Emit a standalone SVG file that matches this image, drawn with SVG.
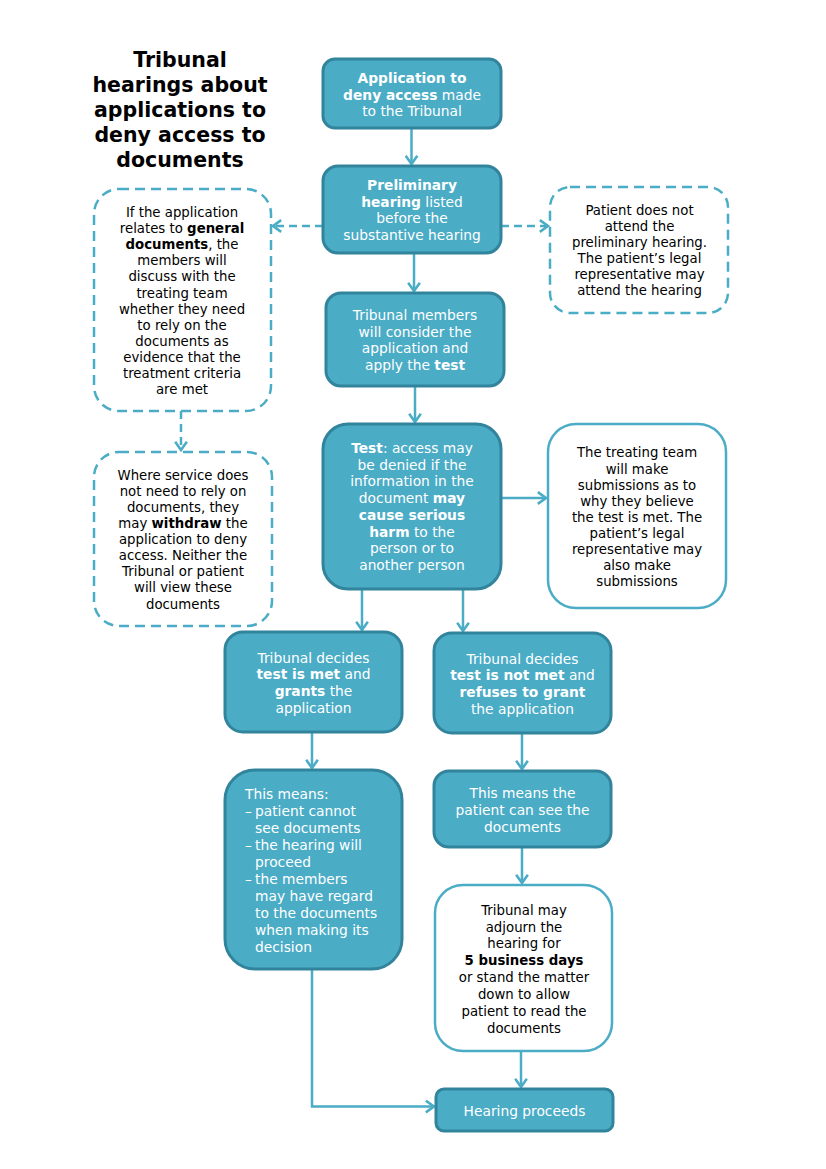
<svg xmlns="http://www.w3.org/2000/svg" width="826" height="1169" viewBox="0 0 826 1169">
<style>
  .node { fill: #4BACC6; stroke: #31849B; stroke-width: 3; }
  .dash { fill: #FFFFFF; stroke: #4BACC6; stroke-width: 2.5; stroke-dasharray: 10 6; }
  .white { fill: #FFFFFF; stroke: #4BACC6; stroke-width: 2.5; }
  .wt { font-family: "DejaVu Sans", Verdana, sans-serif; font-size: 13.8px; fill: #FFFFFF; text-anchor: middle; }
  .wl { font-family: "DejaVu Sans", Verdana, sans-serif; font-size: 13.8px; fill: #FFFFFF; }
  .bt { font-family: "DejaVu Sans", Verdana, sans-serif; font-size: 13.3px; fill: #000000; text-anchor: middle; }
  .title { font-family: "DejaVu Sans", Verdana, sans-serif; font-size: 20.5px; font-weight: bold; fill: #000000; text-anchor: middle; }
  .b { font-weight: bold; }
  .conn { fill: none; stroke: #4BACC6; stroke-width: 2.5; }
  .conn-d { fill: none; stroke: #4BACC6; stroke-width: 2.5; stroke-dasharray: 8 5; }
</style>
<defs>
  <marker id="arr" markerUnits="userSpaceOnUse" markerWidth="14" markerHeight="14" refX="8" refY="6" orient="auto" viewBox="0 0 10 12">
    <path d="M1,1 L8,6 L1,11" fill="none" stroke="#4BACC6" stroke-width="2.2"/>
  </marker>
</defs>
<rect width="826" height="1169" fill="#FFFFFF"/>

<g id="title">
  <text class="title" x="180" y="67">Tribunal</text>
  <text class="title" x="180" y="92">hearings about</text>
  <text class="title" x="180" y="117">applications to</text>
  <text class="title" x="180" y="142">deny access to</text>
  <text class="title" x="180" y="167">documents</text>
</g>

<g id="connectors">
  <path class="conn" d="M411.5,128 V164" marker-end="url(#arr)"/>
  <path class="conn" d="M414,253 V291" marker-end="url(#arr)"/>
  <path class="conn" d="M415,386 V422" marker-end="url(#arr)"/>
  <path class="conn-d" d="M323,226 H273" marker-end="url(#arr)"/>
  <path class="conn-d" d="M501,226 H548" marker-end="url(#arr)"/>
  <path class="conn-d" d="M181,411 V450" marker-end="url(#arr)"/>
  <path class="conn" d="M501,498 H546" marker-end="url(#arr)"/>
  <path class="conn" d="M362,589 V630" marker-end="url(#arr)"/>
  <path class="conn" d="M463,589 V631" marker-end="url(#arr)"/>
  <path class="conn" d="M312,732 V768" marker-end="url(#arr)"/>
  <path class="conn" d="M522,733 V769" marker-end="url(#arr)"/>
  <path class="conn" d="M522,847 V883" marker-end="url(#arr)"/>
  <path class="conn" d="M521,1051 V1087" marker-end="url(#arr)"/>
  <path class="conn" d="M312,970 V1106.5 H434" marker-end="url(#arr)"/>
</g>

<g id="n-application">
  <rect class="node" x="323" y="59" width="178" height="69" rx="12"/>
  <text class="wt" x="412" y="83"><tspan class="b">Application to</tspan></text>
  <text class="wt" x="412" y="99.7"><tspan class="b">deny access</tspan> made</text>
  <text class="wt" x="412" y="116.4">to the Tribunal</text>
</g>

<g id="n-preliminary">
  <rect class="node" x="323" y="166" width="178" height="87" rx="15"/>
  <text class="wt" x="412" y="190"><tspan class="b">Preliminary</tspan></text>
  <text class="wt" x="412" y="206.7"><tspan class="b">hearing</tspan> listed</text>
  <text class="wt" x="412" y="223.4">before the</text>
  <text class="wt" x="412" y="240.1">substantive hearing</text>
</g>

<g id="n-general">
  <rect class="dash" x="94" y="189" width="177" height="222" rx="25"/>
  <text class="bt" x="182" y="217">If the application</text>
  <text class="bt" x="182" y="233.1">relates to <tspan class="b">general</tspan></text>
  <text class="bt" x="182" y="249.2"><tspan class="b">documents</tspan>, the</text>
  <text class="bt" x="182" y="265.3">members will</text>
  <text class="bt" x="182" y="281.4">discuss with the</text>
  <text class="bt" x="182" y="297.5">treating team</text>
  <text class="bt" x="182" y="313.6">whether they need</text>
  <text class="bt" x="182" y="329.7">to rely on the</text>
  <text class="bt" x="182" y="345.8">documents as</text>
  <text class="bt" x="182" y="361.9">evidence that the</text>
  <text class="bt" x="182" y="378">treatment criteria</text>
  <text class="bt" x="182" y="394.1">are met</text>
</g>

<g id="n-notattend">
  <rect class="dash" x="550" y="187" width="178" height="126" rx="20"/>
  <text class="bt" x="639.5" y="215.4">Patient does not</text>
  <text class="bt" x="639.5" y="231.4">attend the</text>
  <text class="bt" x="639.5" y="247.4">preliminary hearing.</text>
  <text class="bt" x="639.5" y="263.4">The patient’s legal</text>
  <text class="bt" x="639.5" y="279.4">representative may</text>
  <text class="bt" x="639.5" y="295.4">attend the hearing</text>
</g>

<g id="n-consider">
  <rect class="node" x="326" y="293" width="178" height="93" rx="15"/>
  <text class="wt" x="415" y="320">Tribunal members</text>
  <text class="wt" x="415" y="336.7">will consider the</text>
  <text class="wt" x="415" y="353.4">application and</text>
  <text class="wt" x="415" y="370.1">apply the <tspan class="b">test</tspan></text>
</g>

<g id="n-withdraw">
  <rect class="dash" x="94" y="452" width="178" height="174" rx="25"/>
  <text class="bt" x="183" y="479.7">Where service does</text>
  <text class="bt" x="183" y="495.8">not need to rely on</text>
  <text class="bt" x="183" y="511.9">documents, they</text>
  <text class="bt" x="183" y="528">may <tspan class="b">withdraw</tspan> the</text>
  <text class="bt" x="183" y="544.1">application to deny</text>
  <text class="bt" x="183" y="560.2">access. Neither the</text>
  <text class="bt" x="183" y="576.3">Tribunal or patient</text>
  <text class="bt" x="183" y="592.4">will view these</text>
  <text class="bt" x="183" y="608.5">documents</text>
</g>

<g id="n-test">
  <rect class="node" x="323" y="424" width="178" height="165" rx="25"/>
  <text class="wt" x="412" y="453"><tspan class="b">Test</tspan>: access may</text>
  <text class="wt" x="412" y="469.7">be denied if the</text>
  <text class="wt" x="412" y="486.4">information in the</text>
  <text class="wt" x="412" y="503.1">document <tspan class="b">may</tspan></text>
  <text class="wt" x="412" y="519.8"><tspan class="b">cause serious</tspan></text>
  <text class="wt" x="412" y="536.5"><tspan class="b">harm</tspan> to the</text>
  <text class="wt" x="412" y="553.2">person or to</text>
  <text class="wt" x="412" y="569.9">another person</text>
</g>

<g id="n-submissions">
  <rect class="white" x="548" y="424" width="178" height="184" rx="28"/>
  <text class="bt" x="637" y="457.4">The treating team</text>
  <text class="bt" x="637" y="473.5">will make</text>
  <text class="bt" x="637" y="489.6">submissions as to</text>
  <text class="bt" x="637" y="505.7">why they believe</text>
  <text class="bt" x="637" y="521.8">the test is met. The</text>
  <text class="bt" x="637" y="537.9">patient’s legal</text>
  <text class="bt" x="637" y="554">representative may</text>
  <text class="bt" x="637" y="570.1">also make</text>
  <text class="bt" x="637" y="586.2">submissions</text>
</g>

<g id="n-granted">
  <rect class="node" x="225" y="632" width="177" height="100" rx="18"/>
  <text class="wt" x="313.5" y="662.5">Tribunal decides</text>
  <text class="wt" x="313.5" y="679.4"><tspan class="b">test is met</tspan> and</text>
  <text class="wt" x="313.5" y="696.3"><tspan class="b">grants</tspan> the</text>
  <text class="wt" x="313.5" y="713.2">application</text>
</g>

<g id="n-refused">
  <rect class="node" x="434" y="633" width="177" height="100" rx="18"/>
  <text class="wt" x="522.5" y="663.5">Tribunal decides</text>
  <text class="wt" x="522.5" y="680.4"><tspan class="b">test is not met</tspan> and</text>
  <text class="wt" x="522.5" y="697.3"><tspan class="b">refuses to grant</tspan></text>
  <text class="wt" x="522.5" y="714.2">the application</text>
</g>

<g id="n-cannotsee">
  <rect class="node" x="225" y="770" width="177" height="199" rx="30"/>
  <text class="wl" x="245" y="799">This means:</text>
  <text class="wl" x="245" y="816">–</text>
  <text class="wl" x="255" y="816">patient cannot</text>
  <text class="wl" x="255" y="833">see documents</text>
  <text class="wl" x="245" y="850">–</text>
  <text class="wl" x="255" y="850">the hearing will</text>
  <text class="wl" x="255" y="867">proceed</text>
  <text class="wl" x="245" y="884">–</text>
  <text class="wl" x="255" y="884">the members</text>
  <text class="wl" x="255" y="901">may have regard</text>
  <text class="wl" x="255" y="918">to the documents</text>
  <text class="wl" x="255" y="935">when making its</text>
  <text class="wl" x="255" y="952">decision</text>
</g>

<g id="n-cansee">
  <rect class="node" x="434" y="771" width="177" height="76" rx="15"/>
  <text class="wt" x="522.5" y="797.5">This means the</text>
  <text class="wt" x="522.5" y="814.5">patient can see the</text>
  <text class="wt" x="522.5" y="831.5">documents</text>
</g>

<g id="n-adjourn">
  <rect class="white" x="435" y="885" width="177" height="166" rx="28"/>
  <text class="bt" x="524" y="914.6">Tribunal may</text>
  <text class="bt" x="524" y="931.5">adjourn the</text>
  <text class="bt" x="524" y="948.4">hearing for</text>
  <text class="bt" x="524" y="965.3"><tspan class="b">5 business days</tspan></text>
  <text class="bt" x="524" y="982.2">or stand the matter</text>
  <text class="bt" x="524" y="999.1">down to allow</text>
  <text class="bt" x="524" y="1016">patient to read the</text>
  <text class="bt" x="524" y="1032.9">documents</text>
</g>

<g id="n-proceeds">
  <rect class="node" x="436" y="1089" width="177" height="42" rx="8"/>
  <text class="wt" x="524.5" y="1115.5">Hearing proceeds</text>
</g>
</svg>
